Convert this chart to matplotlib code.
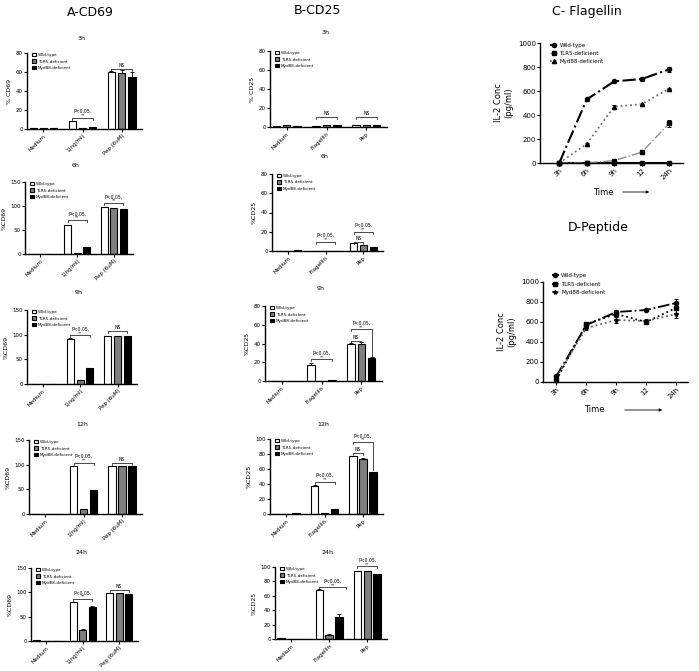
import matplotlib
matplotlib.use('Agg')
import matplotlib.pyplot as plt
import numpy as np

W, H = 699, 671

groups = ["Wild-type", "TLR5-deficient", "Myd88-deficient"]
cd69_cats = ["Medium", "1(ng/ml)", "Pep (6uM)"]
cd25_cats = ["Medium", "Flagellin", "Pep"]

# CD69 values: rows = Medium, 1(ng/ml), Pep ; cols = WT, TLR5, Myd88
cd69_3h = [[1, 1, 1], [8, 1, 2], [60, 59, 55]]
cd69_3h_err = [[0, 0, 0], [0.5, 0, 0], [1, 3, 5]]
cd69_6h = [[0.5, 0.5, 0.5], [60, 3, 14], [97, 95, 93]]
cd69_6h_err = [[0, 0, 0], [1, 0, 0], [1, 1, 1]]
cd69_9h = [[1, 0.5, 0.5], [92, 8, 33], [98, 98, 97]]
cd69_9h_err = [[0, 0, 0], [2, 1, 0], [0, 0, 0]]
cd69_12h = [[1, 0.5, 0.5], [97, 11, 48], [98, 97, 97]]
cd69_12h_err = [[0, 0, 0], [0, 0, 0], [0, 0, 0]]
cd69_24h = [[3, 1, 0.5], [80, 23, 70], [98, 98, 97]]
cd69_24h_err = [[0, 0, 0], [1, 1, 2], [0, 0, 0]]

# CD25 values
cd25_3h = [[1, 2, 1.5], [1, 2, 2], [2, 2, 2]]
cd25_3h_err = [[0, 0, 0], [0, 0, 0], [0, 0, 0]]
cd25_6h = [[0.5, 0.5, 1], [0.5, 0.5, 0.5], [8, 6, 4]]
cd25_6h_err = [[0, 0, 0], [0, 0, 0], [0.5, 0.5, 0]]
cd25_9h = [[0.5, 0.5, 0.5], [17, 0.5, 1.5], [40, 39, 25]]
cd25_9h_err = [[0, 0, 0], [2, 0, 0], [0.5, 3, 0.5]]
cd25_12h = [[0.5, 0.5, 1], [38, 1, 7], [77, 74, 56]]
cd25_12h_err = [[0, 0, 0], [1, 0, 0], [1, 0.5, 0.5]]
cd25_24h = [[1, 0.5, 0.5], [68, 6, 31], [95, 94, 90]]
cd25_24h_err = [[0, 0, 0], [1.5, 0.5, 4], [0, 0.5, 0.5]]

# IL-2 time course
time_labels = ["3h", "6h", "9h", "12", "24h"]
flag_wt = [0, 530, 680, 700, 780]
flag_wt_err = [0, 10, 10, 20, 20]
flag_tlr5 = [0, 0, 20, 90, 330]
flag_tlr5_err = [0, 0, 10, 5, 30]
flag_myd = [0, 160, 470, 490, 620]
flag_myd_err = [0, 5, 10, 5, 5]
flag_base = [0, 0, 0, 0, 0]
pep_wt = [60, 570, 700, 720, 790]
pep_wt_err = [10, 20, 20, 10, 40]
pep_tlr5 = [20, 580, 680, 600, 740]
pep_tlr5_err = [10, 20, 20, 20, 50]
pep_myd = [50, 540, 620, 610, 680]
pep_myd_err = [20, 20, 30, 20, 40]

bar_colors = ["white", "#7f7f7f", "black"]
OFF = 0.26

fig = plt.figure(figsize=(W / 100, H / 100), dpi=100)


def px_axes(x0, y0, x1, y1):
    return fig.add_axes([x0 / W, 1 - y1 / H, (x1 - x0) / W, (y1 - y0) / H])


def px_text(x, y, s, **kw):
    fig.text(x / W, 1 - y / H, s, ha='center', va='center', **kw)


def style(ax):
    for s in ['top', 'right']:
        ax.spines[s].set_visible(False)
    for s in ['left', 'bottom']:
        ax.spines[s].set_linewidth(1.0)
    ax.tick_params(length=2, width=0.8, pad=1)


def bracket(ax, x1, x2, y, text, leg=None):
    h = ax.get_ylim()[1] * 0.025
    ax.plot([x1, x1, x2, x2], [y - h, y, y, (leg if leg is not None else y - h)],
            color='k', lw=0.5, clip_on=False)
    xm = (x1 + x2) / 2
    if text == "NS":
        ax.annotate("NS", (xm, y), xytext=(0, 0.8), textcoords='offset points',
                    ha='center', va='bottom', fontsize=3.3, annotation_clip=False)
    else:
        ax.annotate("**", (xm, y), xytext=(0, 0.2), textcoords='offset points',
                    ha='center', va='bottom', fontsize=3.0, annotation_clip=False)
        ax.annotate(text, (xm, y), xytext=(0, 2.6), textcoords='offset points',
                    ha='center', va='bottom', fontsize=3.3, annotation_clip=False)


def bar_panel(box, vals, errs, cats, ylim, yticks, ylabel, brackets):
    ax = px_axes(*box)
    vals = np.array(vals)
    errs = np.array(errs)
    x = np.arange(len(cats))
    for b in range(3):
        xb = x + (b - 1) * OFF
        ax.bar(xb, vals[:, b], width=0.19, color=bar_colors[b], edgecolor='k',
               lw=0.8, label=groups[b], zorder=2)
        ax.errorbar(xb, vals[:, b], yerr=[np.zeros(3), errs[:, b]], fmt='none',
                    ecolor='k', elinewidth=0.6, capsize=1.2, capthick=0.6, zorder=1)
    ax.set_xlim(-0.42, 2.52)
    ax.set_ylim(*ylim)
    ax.set_yticks(yticks)
    ax.set_xticks(x)
    ax.set_xticklabels(cats, rotation=45, ha='right', rotation_mode='anchor')
    ax.tick_params(labelsize=4)
    ax.set_ylabel(ylabel, fontsize=4.5, labelpad=3)
    style(ax)
    ax.legend(loc='upper left', bbox_to_anchor=(0.02, 1.04), frameon=False,
              fontsize=3.0, handlelength=0.9, handleheight=0.9,
              labelspacing=0.55, borderpad=0.2, handletextpad=0.5)
    for br in brackets:
        bracket(ax, *br)
    return ax


def bx(g, b):
    return g + (b - 1) * OFF


ticks80 = [0, 20, 40, 60, 80]
ticks150 = [0, 50, 100, 150]
ticks100 = [0, 20, 40, 60, 80, 100]
P = "P<0.05,"

# A - CD69
px_text(90, 12, "A-CD69", fontsize=9)
a_panels = [
    ("3h", 38, (27, 53, 142, 129), cd69_3h, cd69_3h_err, (0, 80), ticks80, "% CD69",
     [(bx(1, 0), bx(1, 2), 12, P), (bx(2, 0), bx(2, 2), 63, "NS")]),
    ("6h", 165, (25, 182, 133, 254), cd69_6h, cd69_6h_err, (0, 150), ticks150, "%CD69",
     [(bx(1, 0), bx(1, 2), 71, P), (bx(2, 0), bx(2, 2), 106, P)]),
    ("9h", 293, (27, 310, 137, 384), cd69_9h, cd69_9h_err, (0, 150), ticks150, "%CD69",
     [(bx(1, 0), bx(1, 2), 99, P), (bx(2, 0), bx(2, 2), 108, "NS")]),
    ("12h", 424, (29, 440, 142, 514), cd69_12h, cd69_12h_err, (0, 150), ticks150, "%CD69",
     [(bx(1, 0), bx(1, 2), 104, P), (bx(2, 0), bx(2, 2), 104, "NS")]),
    ("24h", 553, (31, 568, 138, 641), cd69_24h, cd69_24h_err, (0, 150), ticks150, "%CD69",
     [(bx(1, 0), bx(1, 2), 86, P), (bx(2, 0), bx(2, 2), 105, "NS")]),
]
for title, ty, box, v, e, yl, yt, lab, brs in a_panels:
    px_text((box[0] + box[2]) / 2 - 3, ty, title, fontsize=4.5)
    bar_panel(box, v, e, cd69_cats, yl, yt, lab, brs)

# B - CD25
px_text(317, 10, "B-CD25", fontsize=9)
b_panels = [
    ("3h", 33, (270, 51, 387, 127), cd25_3h, cd25_3h_err, (0, 80), ticks80, "% CD25",
     [(bx(1, 0), bx(1, 2), 10.8, "NS"), (bx(2, 0), bx(2, 2), 10.8, "NS")]),
    ("6h", 157, (272, 174, 383, 251), cd25_6h, cd25_6h_err, (0, 80), ticks80, "%CD25",
     [(bx(1, 0), bx(1, 2), 9.7, P), (bx(2, 0), bx(2, 1), 9.7, "NS"),
      (bx(2, 0), bx(2, 2), 20, P)]),
    ("9h", 288, (265, 306, 382, 381), cd25_9h, cd25_9h_err, (0, 80), ticks80, "%CD25",
     [(bx(1, 0), bx(1, 2), 23, P), (bx(2, 0), bx(2, 1), 43, "NS"),
      (bx(2, 0), bx(2, 2), 55, P, 27)]),
    ("12h", 424, (270, 439, 383, 514), cd25_12h, cd25_12h_err, (0, 100), ticks100, "%CD25",
     [(bx(1, 0), bx(1, 2), 43, P), (bx(2, 0), bx(2, 1), 81, "NS"),
      (bx(2, 0), bx(2, 2), 96, P, 59)]),
    ("24h", 552, (275, 567, 387, 639), cd25_24h, cd25_24h_err, (0, 100), ticks100, "%CD25",
     [(bx(1, 0), 1.45, 72, P), (bx(2, 0), bx(2, 2), 101, P)]),
]
for title, ty, box, v, e, yl, yt, lab, brs in b_panels:
    px_text((box[0] + box[2]) / 2 - 3, ty, title, fontsize=4.5)
    bar_panel(box, v, e, cd25_cats, yl, yt, lab, brs)


def line_panel(box, series, xlim, legend_anchor):
    ax = px_axes(*box)
    x = np.arange(len(time_labels))
    handles, labels = [], []
    for vals, err, mk, ls, col, lw, lab in series:
        c = ax.errorbar(x, vals, yerr=err, marker=mk, ms=3, ls=ls, color=col, lw=lw,
                        mfc='k', mec='k', ecolor='k', elinewidth=0.7, capsize=1.5,
                        capthick=0.7, clip_on=False)
        if lab:
            handles.append(c[0])
            labels.append(lab)
    ax.set_xlim(*xlim)
    ax.set_ylim(0, 1000)
    ax.set_yticks([0, 200, 400, 600, 800, 1000])
    ax.set_xticks(x)
    ax.set_xticklabels(time_labels, rotation=45, ha='right', rotation_mode='anchor')
    ax.tick_params(labelsize=5)
    ax.set_ylabel("IL-2 Conc\n(pg/ml)", fontsize=6, labelpad=3)
    style(ax)
    ax.legend(handles, labels, loc='upper left', bbox_to_anchor=legend_anchor,
              frameon=False, fontsize=4, handlelength=1.2, labelspacing=0.6,
              borderpad=0.1, handletextpad=0.4)
    return ax


# C - Flagellin
px_text(587, 11, "C- Flagellin", fontsize=9)
axc = line_panel((540, 43, 683, 163), [
    (flag_base, None, 's', '-', 'k', 1.5, None),
    (flag_wt, flag_wt_err, 'o', '-.', 'k', 1.5, "Wild-type"),
    (flag_tlr5, flag_tlr5_err, 's', '-.', '#8c8c8c', 1.0, "TLR5-deficient"),
    (flag_myd, flag_myd_err, '^', ':', '#707070', 1.3, "Myd88-deficient"),
], (-0.7, 4.5), (0.05, 1.03))
px_text(603, 192, "Time", fontsize=6)
fig.add_artist(matplotlib.patches.FancyArrowPatch(
    (620 / W, 1 - 192 / H), (652 / W, 1 - 192 / H), transform=fig.transFigure,
    arrowstyle='-|>', mutation_scale=4, lw=0.6, color='k'))

# D - Peptide
px_text(598, 228, "D-Peptide", fontsize=9)
axd = line_panel((543, 282, 688, 382), [
    (pep_wt, pep_wt_err, 'o', '-.', 'k', 1.3, "Wild-type"),
    (pep_tlr5, pep_tlr5_err, 's', ':', 'k', 1.3, "TLR5-deficient"),
    (pep_myd, pep_myd_err, '*', ':', '#606060', 1.3, "Myd88-deficient"),
], (-0.45, 4.4), (0.04, 1.12))
px_text(594, 410, "Time", fontsize=6)
fig.add_artist(matplotlib.patches.FancyArrowPatch(
    (622 / W, 1 - 410 / H), (665 / W, 1 - 410 / H), transform=fig.transFigure,
    arrowstyle='-|>', mutation_scale=4, lw=0.6, color='k'))

fig.savefig("out.png", dpi=100)
